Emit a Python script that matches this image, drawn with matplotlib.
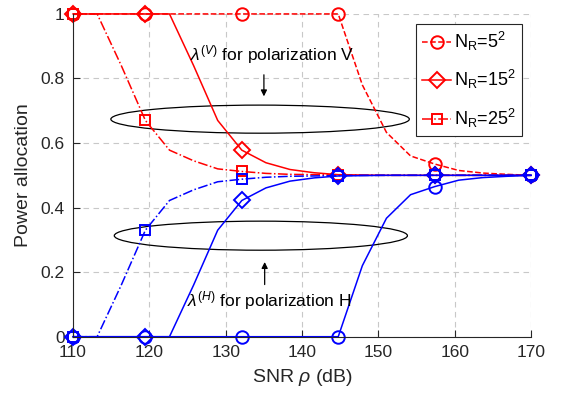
import numpy as np
import matplotlib.pyplot as plt
from matplotlib.patches import Ellipse

plt.rcParams['font.family'] = ['Liberation Sans', 'DejaVu Sans']
plt.rcParams['mathtext.fontset'] = 'custom'
plt.rcParams['mathtext.rm'] = 'Liberation Sans'
plt.rcParams['mathtext.it'] = 'Liberation Sans:italic'

# SNR grid (dB)
snr = np.linspace(110, 170, 20)
marks = [0, 3, 7, 11, 15, 19]

# lambda^(V), vertical polarization
v_5 = [1, 1, 1, 1, 1, 1, 1, 1, 1, 1, 1, 1,
       0.78, 0.633, 0.56, 0.535, 0.515, 0.507, 0.503, 0.5]
v_15 = [1, 1, 1, 1, 1, 0.84, 0.67, 0.578, 0.539, 0.518, 0.508, 0.502,
        0.501, 0.5, 0.5, 0.5, 0.5, 0.5, 0.5, 0.5]
v_25 = [1, 1, 0.84, 0.67, 0.578, 0.545, 0.52, 0.512, 0.506, 0.503, 0.502, 0.501,
        0.5, 0.5, 0.5, 0.5, 0.5, 0.5, 0.5, 0.5]

# lambda^(H), horizontal polarization
h_5 = [0, 0, 0, 0, 0, 0, 0, 0, 0, 0, 0, 0,
       0.22, 0.367, 0.44, 0.465, 0.485, 0.493, 0.497, 0.5]
h_15 = [0, 0, 0, 0, 0, 0.16, 0.33, 0.422, 0.461, 0.482, 0.492, 0.498,
        0.499, 0.5, 0.5, 0.5, 0.5, 0.5, 0.5, 0.5]
h_25 = [0, 0, 0.16, 0.33, 0.422, 0.455, 0.48, 0.488, 0.494, 0.497, 0.498, 0.499,
        0.5, 0.5, 0.5, 0.5, 0.5, 0.5, 0.5, 0.5]

labels = [r'N$_\mathrm{R}$=5$^2$', r'N$_\mathrm{R}$=15$^2$', r'N$_\mathrm{R}$=25$^2$']

fig = plt.figure(figsize=(5.62, 3.98), dpi=100)
ax = fig.add_axes([0.13, 0.154, 0.815, 0.811])

lw = 1.1
kw = dict(mfc='none', mew=1.4, lw=lw, markevery=marks, clip_on=False)
ax.plot(snr, v_5, '--', color='r', marker='o', ms=9, label=labels[0], **kw)
ax.plot(snr, v_15, '-', color='r', marker='D', ms=8, label=labels[1], **kw)
ax.plot(snr, v_25, '-.', color='r', marker='s', ms=7, label=labels[2], **kw)
ax.plot(snr, h_5, '-', color='b', marker='o', ms=9, **kw)
ax.plot(snr, h_15, '-', color='b', marker='D', ms=8, **kw)
ax.plot(snr, h_25, '-.', color='b', marker='s', ms=7, **kw)

# ellipses and annotations
ax.add_patch(Ellipse((134.5, 0.674), 39.1, 0.087, fill=False, ec='k', lw=0.9))
ax.add_patch(Ellipse((134.6, 0.313), 38.4, 0.09, fill=False, ec='k', lw=0.9))
ax.annotate('', xy=(135.0, 0.736), xytext=(135.0, 0.82),
            arrowprops=dict(arrowstyle='-|>', color='k', lw=0.9, mutation_scale=9))
ax.annotate('', xy=(135.1, 0.24), xytext=(135.1, 0.153),
            arrowprops=dict(arrowstyle='-|>', color='k', lw=0.9, mutation_scale=9))
ax.text(125.3, 0.855, r'$\lambda^{(V)}$ for polarization V', fontsize=12.5, va='baseline')
ax.text(124.9, 0.095, r'$\lambda^{(H)}$ for polarization H', fontsize=12.5, va='baseline')

ax.set_xlim(110, 170)
ax.set_ylim(0, 1)
ax.set_xticks(np.arange(110, 171, 10))
ax.set_yticks([0, 0.2, 0.4, 0.6, 0.8, 1])
ax.set_yticklabels(['0', '0.2', '0.4', '0.6', '0.8', '1'])
ax.tick_params(direction='in', labelsize=12.5, length=5, pad=6, colors='#262626')
ax.grid(True, ls=(0, (5, 4)), color='#c8c8c8', lw=0.8)
ax.set_axisbelow(True)
for s in ['top', 'right']:
    ax.spines[s].set_visible(False)
for s in ['left', 'bottom']:
    ax.spines[s].set_color('#262626')
ax.set_xlabel(r'SNR $\rho$ (dB)', fontsize=14, color='#262626', labelpad=5)
ax.set_ylabel('Power allocation', fontsize=14, color='#262626', labelpad=6)

leg = ax.legend(loc='upper right', bbox_to_anchor=(0.98, 0.97), fontsize=13,
                fancybox=False, edgecolor='#262626', framealpha=1,
                handlelength=1.6, borderpad=0.35, labelspacing=0.85,
                handletextpad=0.15, borderaxespad=0)
leg.get_frame().set_linewidth(0.8)

fig.savefig('out.png', dpi=100)
